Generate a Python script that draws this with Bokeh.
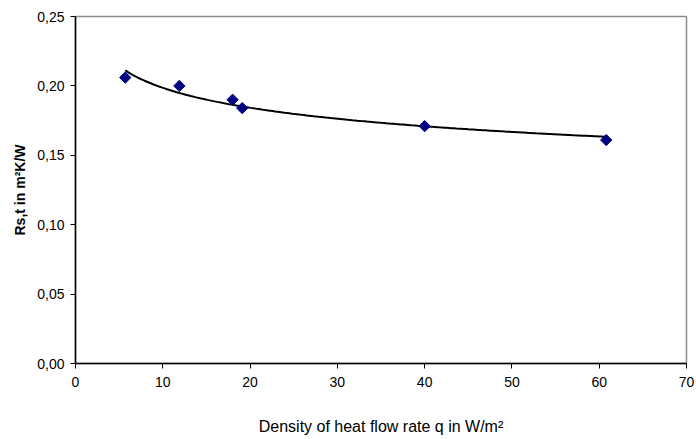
import numpy as np
from bokeh.plotting import figure
from bokeh.models import Range1d, FixedTicker, CustomJSTickFormatter
from bokeh.embed import file_html
from bokeh.resources import INLINE

q = [5.7, 11.9, 18.0, 19.1, 40.0, 60.8]
rst = [0.206, 0.200, 0.190, 0.184, 0.171, 0.161]
x_ticks = [0, 10, 20, 30, 40, 50, 60, 70]
y_ticks = [0.0, 0.05, 0.10, 0.15, 0.20, 0.25]

# power trend line fitted to the data
b, lna = np.polyfit(np.log(q), np.log(rst), 1)
xf = np.linspace(min(q), max(q), 200)
yf = np.exp(lna) * xf ** b

p = figure(width=694, height=437, output_backend="svg", toolbar_location=None,
           x_range=Range1d(0, 70), y_range=Range1d(0, 0.25),
           min_border_left=75, min_border_right=8, min_border_top=16, min_border_bottom=72)
p.line(xf, yf, line_color="black", line_width=2)
p.scatter(q, rst, marker="square", angle=np.pi / 4, size=8,
          fill_color="#000080", line_color="#000080")

p.xgrid.visible = False
p.ygrid.visible = False
p.outline_line_color = "#8c8c8c"
p.outline_line_width = 1.5

p.xaxis.ticker = FixedTicker(ticks=x_ticks)
p.yaxis.ticker = FixedTicker(ticks=y_ticks)
p.yaxis.formatter = CustomJSTickFormatter(code="return tick.toFixed(2).replace('.', ',');")
for ax in (p.xaxis[0], p.yaxis[0]):
    ax.axis_line_color = "black"
    ax.axis_line_width = 1.5
    ax.major_tick_line_color = "black"
    ax.major_tick_out = 5
    ax.major_tick_in = 0
    ax.minor_tick_line_color = None
    ax.major_label_text_font = "Liberation Sans"
    ax.major_label_text_font_size = "14px"
    ax.major_label_text_color = "black"
    ax.axis_label_text_font = "Liberation Sans"
    ax.axis_label_text_color = "black"

p.xaxis.axis_label = "Density of heat flow rate q in W/m²"
p.xaxis.axis_label_text_font_size = "16px"
p.xaxis.axis_label_text_font_style = "normal"
p.xaxis.axis_label_standoff = 28
p.xaxis.major_label_standoff = 8
p.yaxis.axis_label = "Rs,t in m²K/W"
p.yaxis.axis_label_text_font_size = "14px"
p.yaxis.axis_label_text_font_style = "bold"
p.yaxis.axis_label_standoff = 6
p.yaxis.major_label_standoff = 6

open("out.html", "w").write(file_html(p, INLINE))
